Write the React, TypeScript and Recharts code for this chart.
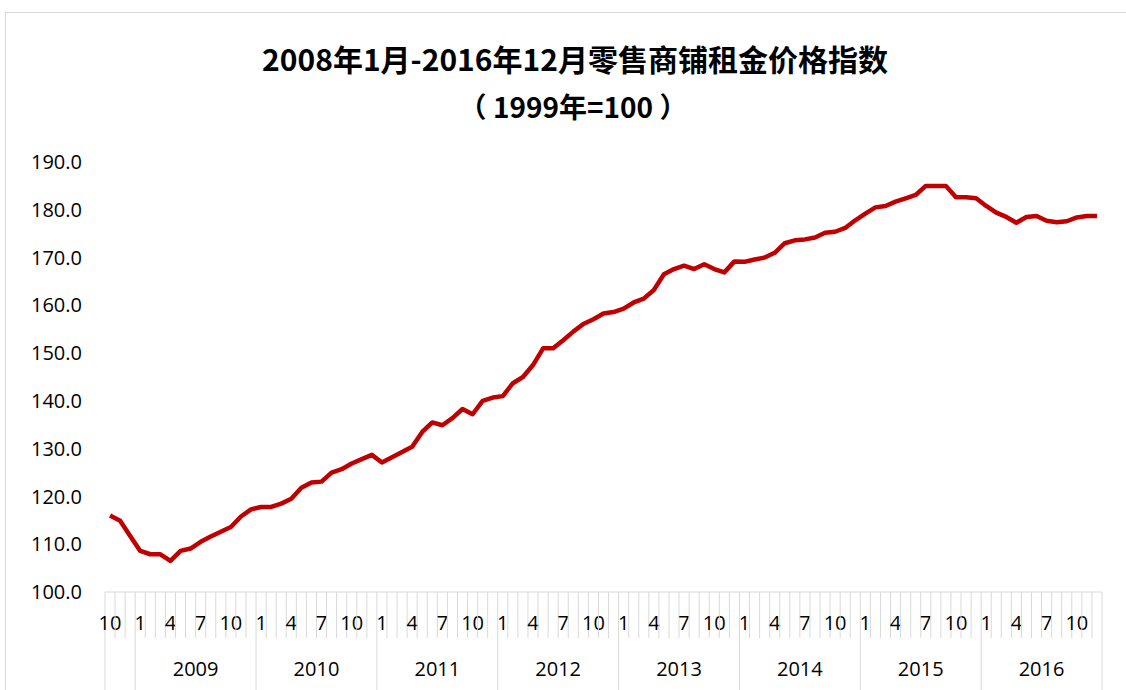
import { LineChart, Line, XAxis, YAxis } from 'recharts';

// 2008-10 .. 2016-12, monthly
const YEARS = [2008, 2009, 2010, 2011, 2012, 2013, 2014, 2015, 2016];
const FIRST_MONTH = 10;
const MONTH_LABELS = [1, 4, 7, 10];
const Y_TICKS = [100, 110, 120, 130, 140, 150, 160, 170, 180, 190];

const INDEX_VALUES = [
  116.0, 114.9, 111.7, 108.6, 107.9, 107.9, 106.5, 108.6, 109.1, 110.5,
  111.6, 112.6, 113.6, 115.8, 117.3, 117.8, 117.8, 118.5, 119.5, 121.8,
  122.9, 123.1, 125.0, 125.7, 126.9, 127.8, 128.7, 127.1, 128.2, 129.3,
  130.4, 133.5, 135.5, 134.9, 136.4, 138.3, 137.2, 140.0, 140.7, 141.0,
  143.7, 145.0, 147.5, 151.0, 151.0, 152.7, 154.5, 156.1, 157.1, 158.3,
  158.6, 159.3, 160.6, 161.4, 163.2, 166.5, 167.6, 168.3, 167.6, 168.6,
  167.6, 166.9, 169.2, 169.1, 169.6, 170.0, 171.0, 173.0, 173.6, 173.8,
  174.2, 175.2, 175.4, 176.2, 177.8, 179.2, 180.5, 180.8, 181.7, 182.4,
  183.1, 185.0, 185.0, 185.0, 182.6, 182.6, 182.4, 180.8, 179.4, 178.5,
  177.3, 178.5, 178.7, 177.7, 177.4, 177.6, 178.4, 178.7, 178.7,
];

const periods = YEARS.flatMap((y, yi) =>
  Array.from({ length: 12 }, (_, m) => ({ year: y, month: m + 1 })).filter(
    (p) => yi > 0 || p.month >= FIRST_MONTH
  )
);

const data = periods.map((p, i) => ({
  key: `${p.year}-${p.month}`,
  year: p.year,
  month: p.month,
  value: INDEX_VALUES[i],
}));

const W = 1126;
const H = 690;
const PLOT_LEFT = 105;
const PLOT_RIGHT = 1102;
const BW = (PLOT_RIGHT - PLOT_LEFT) / data.length;
const FONT = '"Open Sans", "Noto Sans", sans-serif';
const GRID = '#d9d9d9';

function MonthYearTick(props: any) {
  const { x, y, payload } = props;
  const i = payload.index;
  const d = data[i];
  if (!d) return null;
  const left = x - BW / 2;
  const long = d.month === 1 || i === 0;
  return (
    <g>
      <line x1={left} x2={left} y1={y} y2={long ? y + 110 : y + 46} stroke={GRID} strokeWidth={1} />
      {i === data.length - 1 && (
        <line x1={x + BW / 2} x2={x + BW / 2} y1={y} y2={y + 110} stroke={GRID} strokeWidth={1} />
      )}
      {MONTH_LABELS.includes(d.month) && (
        <text x={x} y={y + 30} textAnchor="middle" dominantBaseline="central" fontSize={20} fontFamily={FONT} fill="#000">
          {d.month}
        </text>
      )}
      {d.month === 7 && d.year !== YEARS[0] && (
        <text x={left} y={y + 76} textAnchor="middle" dominantBaseline="central" fontSize={20} fontFamily={FONT} fill="#000">
          {d.year}
        </text>
      )}
    </g>
  );
}

export default function App() {
  return (
    <div style={{ position: 'absolute', left: 0, top: 0, width: W, height: H, overflow: 'hidden', background: '#fff' }}>
      <div style={{ position: 'absolute', left: 5, top: 12, width: W + 20, height: H + 20, border: `1px solid ${GRID}` }} />
      <div
        style={{
          position: 'absolute', left: 0, width: 1150, top: 36, textAlign: 'center',
          fontFamily: '"Noto Sans CJK SC", sans-serif', fontWeight: 700, fontSize: 30, lineHeight: '44px', color: '#000',
        }}
      >
        2008年1月-2016年12月零售商铺租金价格指数
      </div>
      <div
        style={{
          position: 'absolute', left: 0, width: 1146, top: 86, textAlign: 'center',
          fontFamily: '"Noto Sans CJK SC", sans-serif', fontWeight: 700, fontSize: 28, lineHeight: '40px', color: '#000',
        }}
      >
        （ 1999年=100 ）
      </div>
      <div style={{ position: 'absolute', left: 0, top: 0 }}>
        <LineChart width={W} height={H} data={data} margin={{ top: 162, right: W - PLOT_RIGHT, bottom: 0, left: 0 }}>
          <XAxis
            dataKey="key"
            interval={0}
            height={H - 592}
            tick={<MonthYearTick />}
            tickLine={false}
            tickSize={0}
            tickMargin={0}
            axisLine={{ stroke: GRID }}
            padding={{ left: BW / 2, right: BW / 2 }}
          />
          <YAxis
            width={PLOT_LEFT}
            domain={[100, 190]}
            ticks={Y_TICKS}
            tickFormatter={(v: number) => v.toFixed(1)}
            axisLine={false}
            tickLine={false}
            tickSize={0}
            tickMargin={23}
            tick={{ fontSize: 20, fontFamily: FONT, fill: '#000' }}
          />
          <Line
            type="linear"
            dataKey="value"
            stroke="#c00000"
            strokeWidth={4.5}
            dot={false}
            strokeLinejoin="round"
            isAnimationActive={false}
          />
        </LineChart>
      </div>
    </div>
  );
}
